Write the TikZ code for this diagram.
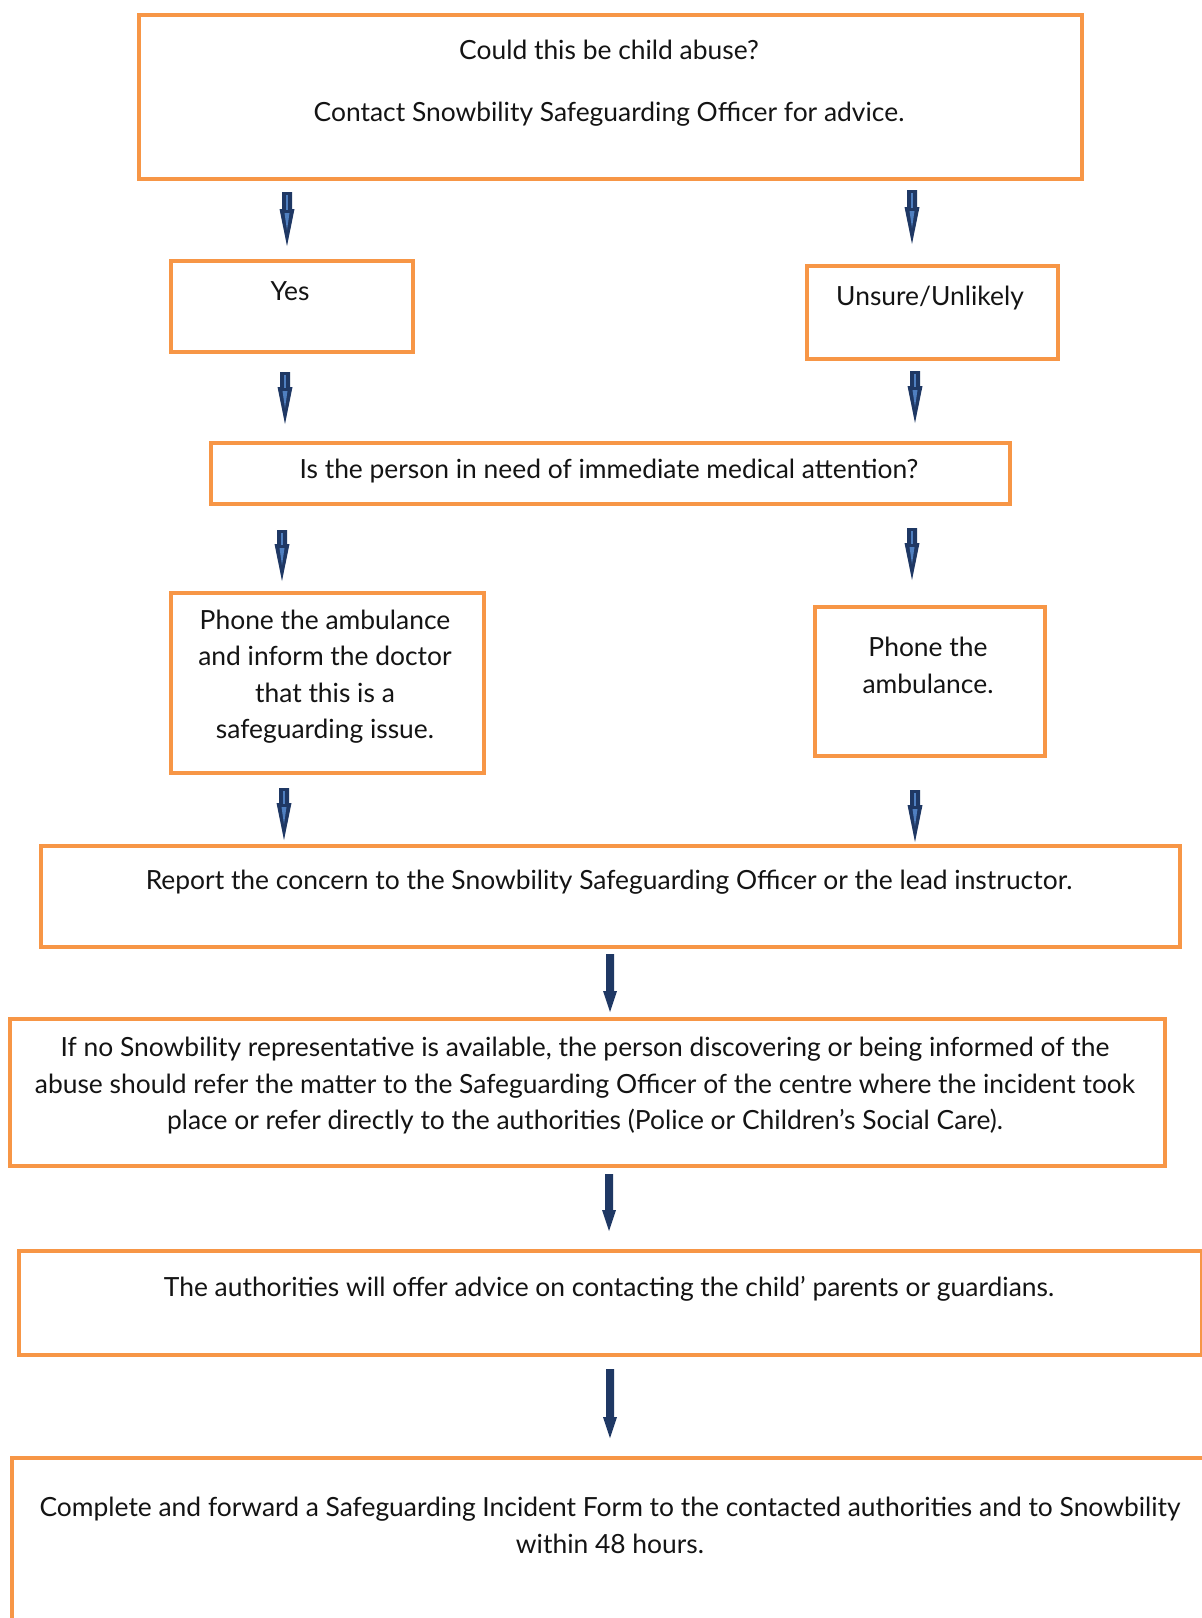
\documentclass[tikz,border=0pt]{standalone}
\usepackage{fontspec}
\setmainfont{Lato}
\definecolor{boxorange}{HTML}{F79646}
\definecolor{navy}{HTML}{1F3864}
\definecolor{lightnavy}{HTML}{4F7FC0}
\definecolor{txt}{HTML}{141414}
\tikzset{
  box/.style={draw=boxorange, line width=3.5pt, fill=white, anchor=north west, inner sep=0pt},
  lbl/.style={text=txt, font=\fontsize{26.4}{36.5}\selectfont, align=center, inner sep=0pt}
}
% #1 start coord name, #2 tip coord name, #3 shaft half width, #4 head half width, #5 head length
\newcommand\blockarrow[5]{%
  \fill[navy] ([xshift=-#3]#1) -- ([xshift=#3]#1) -- ([xshift=#3,yshift=#5]#2)
    -- ([xshift=#4,yshift=#5]#2) -- (#2) -- ([xshift=-#4,yshift=#5]#2)
    -- ([xshift=-#3,yshift=#5]#2) -- cycle;}
\newcommand\arrowglow[2]{%
  \draw[lightnavy, line width=1.6pt] ([yshift=-3pt]#1) -- ([yshift=36pt]#2);
  \fill[lightnavy] ([xshift=-2.5pt,yshift=33pt]#2) -- ([xshift=2.5pt,yshift=33pt]#2) -- ([yshift=16pt]#2) -- cycle;}
\begin{document}
\begin{tikzpicture}[x=1pt,y=-1pt]
\useasboundingbox[fill=white] (0,0) rectangle (1202,1618);
% boxes
\node[box, minimum width=943pt, minimum height=164pt] (b1) at (137,13) {};
\node[box, minimum width=242pt, minimum height=91pt] (yes) at (169,259) {};
\node[box, minimum width=251pt, minimum height=93pt] (unsure) at (805,264) {};
\node[box, minimum width=799pt, minimum height=61pt] (med) at (209,441) {};
\node[box, minimum width=313pt, minimum height=180pt] (amb1) at (169,591) {};
\node[box, minimum width=230pt, minimum height=149pt] (amb2) at (813,605) {};
\node[box, minimum width=1139pt, minimum height=101pt] (report) at (39,844) {};
\node[box, minimum width=1155pt, minimum height=147pt] (ifno) at (8,1017) {};
\node[box, minimum width=1183pt, minimum height=104pt] (auth) at (17,1249) {};
\node[box, minimum width=1230pt, minimum height=220pt] (last) at (10,1456) {};
% texts
\node[lbl] (t1a) at (609,49.5) {Could this be child abuse?};
\node[lbl] (t1b) at (609,114.5) {Contact Snowbility Safeguarding Officer for advice.};
\node[lbl] (tyes) at (290,291) {Yes};
\node[lbl] (tunsure) at (930,298) {Unsure/Unlikely};
\node[lbl] (tmed) at (609,471) {Is the person in need of immediate medical attention?};
\node[lbl] (tamb1) at (325,676.5) {Phone the ambulance\\and inform the doctor\\that this is a\\safeguarding issue.};
\node[lbl] (tamb2) at (928,665.5) {Phone the\\ambulance.};
\node[lbl] (treport) at (609,882) {Report the concern to the Snowbility Safeguarding Officer or the lead instructor.};
\node[lbl] (tifno) at (585,1086) {If no Snowbility representative is available, the person discovering or being informed of the\\abuse should refer the matter to the Safeguarding Officer of the centre where the incident took\\place or refer directly to the authorities (Police or Children’s Social Care).};
\node[lbl] (tauth) at (609,1289) {The authorities will offer advice on contacting the child’ parents or guardians.};
\node[lbl] (tlast) at (610,1525.5) {Complete and forward a Safeguarding Incident Form to the contacted authorities and to Snowbility\\within 48 hours.};
% arrow coordinates
\coordinate (a1s) at (287,192); \coordinate (a1e) at (287,246);
\coordinate (a2s) at (912,190); \coordinate (a2e) at (912,244);
\coordinate (a3s) at (285,372); \coordinate (a3e) at (285,424);
\coordinate (a4s) at (915,371); \coordinate (a4e) at (915,423);
\coordinate (a5s) at (282,530); \coordinate (a5e) at (282,581);
\coordinate (a6s) at (912,528); \coordinate (a6e) at (912,580);
\coordinate (a7s) at (284,788); \coordinate (a7e) at (284,840);
\coordinate (a8s) at (915,790); \coordinate (a8e) at (915,842);
\coordinate (a9s) at (610,954); \coordinate (a9e) at (610,1012);
\coordinate (a10s) at (609,1174); \coordinate (a10e) at (609,1231);
\coordinate (a11s) at (610,1369); \coordinate (a11e) at (610,1438);
\foreach \i in {1,...,8} {\blockarrow{a\i s}{a\i e}{5pt}{7.5pt}{37pt}\arrowglow{a\i s}{a\i e}}
\foreach \i in {9,10,11} {\blockarrow{a\i s}{a\i e}{4pt}{7pt}{21pt}}
\end{tikzpicture}
\end{document}
